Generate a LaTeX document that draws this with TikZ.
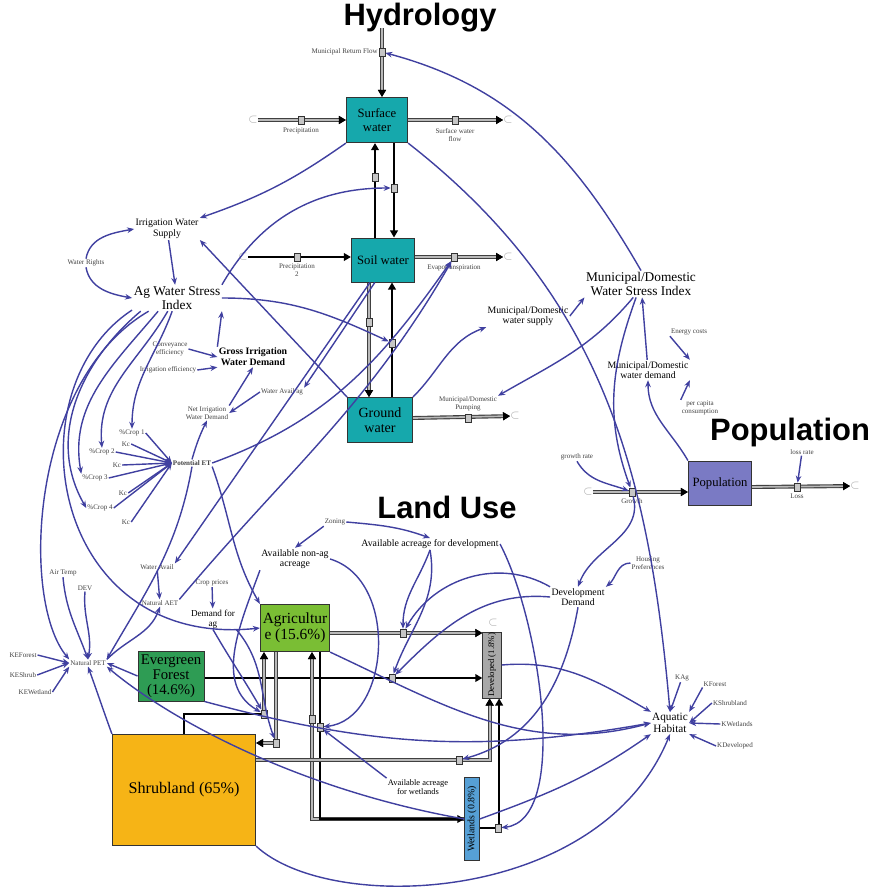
\documentclass[tikz,border=0pt]{standalone}
\usepackage{fontspec}
\setmainfont{Liberation Serif}
\setsansfont{Liberation Sans}
\usetikzlibrary{arrows.meta,positioning,backgrounds}

\definecolor{linkblue}{RGB}{64,64,160}
\definecolor{waterfill}{RGB}{22,168,172}
\definecolor{popfill}{RGB}{122,122,196}
\definecolor{agfill}{RGB}{122,190,52}
\definecolor{forestfill}{RGB}{46,156,84}
\definecolor{shrubfill}{RGB}{246,180,22}
\definecolor{devfill}{RGB}{168,168,168}
\definecolor{wetfill}{RGB}{86,160,214}

\tikzset{
  stock/.style={draw=black!80, line width=0.7pt, align=center, inner sep=1pt,
    font=\fontsize{9}{9.5}\selectfont},
  auxtiny/.style={font=\fontsize{5}{5.6}\selectfont, text=black!75, align=center, inner sep=0.6pt},
  auxsmall/.style={font=\fontsize{7}{7.6}\selectfont, align=center, inner sep=0.8pt},
  auxbold/.style={auxsmall, font=\bfseries\fontsize{7}{7.6}\selectfont},
  auxbig/.style={font=\fontsize{9.5}{10}\selectfont, align=center, inner sep=1pt},
  sectiontitle/.style={font=\sffamily\bfseries\fontsize{22}{22}\selectfont},
  valve/.style={draw=black!80, fill=gray!45, line width=0.4pt, minimum width=1.5mm,
    minimum height=2mm, inner sep=0pt},
  cloud/.style={font=\fontsize{8}{8}\selectfont, text=gray!70, inner sep=0pt},
  pipe/.style={line width=1.2pt, draw=gray!55, preaction={draw=black!75, line width=2.8pt}},
  pipeend/.style={-{Triangle[length=5pt,width=5.5pt,color=black]}},
  bflow/.style={line width=1.1pt, draw=black},
  link/.style={draw=linkblue, line width=1pt, -{Stealth[length=5pt,width=4pt]}}
}

\begin{document}
\begin{tikzpicture}[x=0.25mm,y=-0.25mm]
  \useasboundingbox (0,0) rectangle (880,892);

  % section headings
  \node[sectiontitle] (tHyd) at (420,18) {Hydrology};
  \node[sectiontitle] (tPop) at (790,432) {Population};
  \node[sectiontitle] (tLand) at (447,507) {Land Use};

  % hydrology stocks
  \node[stock, fill=waterfill, minimum width=15.3mm, minimum height=11.3mm] (sw) at (377,120) {Surface\\water};
  \node[stock, fill=waterfill, minimum width=15.8mm, minimum height=11mm] (soil) at (383,260) {Soil water};
  \node[stock, fill=waterfill, minimum width=16.2mm, minimum height=11.2mm, font=\fontsize{10}{10.5}\selectfont] (gw) at (380,420) {Ground\\water};

  % hydrology rates
  \node[cloud] (cPrec) at (253,120) {$\subset$};
  \node[valve] (vPrec) at (301,120) {};
  \node[auxtiny, below=2pt of vPrec] (lPrec) {Precipitation};
  \node[valve] (vSwf) at (455,120) {};
  \node[auxtiny, below=2pt of vSwf] (lSwf) {Surface water\\flow};
  \node[cloud] (cSwf) at (508,120) {$\subset$};
  \coordinate (cMrf) at (382,28);
  \node[valve] (vMrf) at (382,52) {};
  \node[auxtiny, left=0pt of vMrf] (lMrf) {Municipal Return Flow};
  \node[valve] (vUp) at (375,177) {};
  \node[valve] (vDown) at (394,188) {};
  \node[cloud] (cPrec2) at (243,257) {$\subset$};
  \node[valve] (vPrec2) at (297,257) {};
  \node[auxtiny, below=1pt of vPrec2] (lPrec2) {Precipitation\\2};
  \node[valve] (vEt) at (454,257) {};
  \node[auxtiny, below=2pt of vEt] (lEt) {Evapotranspiration};
  \node[cloud] (cEt) at (508,257) {$\subset$};
  \node[valve] (vRech) at (369,322) {};
  \node[valve] (vPump) at (392,343) {};
  \node[valve] (vMdp) at (468,418) {};
  \node[auxtiny, above=1pt of vMdp] (lMdp) {Municipal/Domestic\\Pumping};
  \node[cloud] (cMdp) at (515,416) {$\subset$};

  % hydrology auxiliaries
  \node[auxsmall] (iws) at (167,229) {Irrigation Water\\Supply};
  \node[auxtiny] (wr) at (86,263) {Water Rights};
  \node[auxbig] (awsi) at (177,298) {Ag Water Stress\\Index};
  \node[auxbig] (mdwsi) at (641,284) {Municipal/Domestic\\Water Stress Index};
  \node[auxsmall] (mdws) at (528,316) {Municipal/Domestic\\water supply};
  \node[auxtiny] (ec) at (689,332) {Energy costs};
  \node[auxsmall] (mdwd) at (648,370) {Municipal/Domestic\\water demand};
  \node[auxtiny] (pcc) at (700,408) {per capita\\consumption};
  \node[auxtiny] (ce) at (170,349) {Conveyance\\efficiency};
  \node[auxtiny] (ie) at (168,370) {Irrigation efficiency};
  \node[auxbold] (giwd) at (253,357) {Gross Irrigation\\Water Demand};
  \node[auxtiny] (wag) at (282,392) {Water Avail ag};
  \node[auxtiny] (niwd) at (207,413) {Net Irrigation\\Water Demand};
  \node[auxtiny] (crop1) at (132,433) {\%Crop 1};
  \node[auxtiny] (kc1) at (126,444) {Kc};
  \node[auxtiny] (crop2) at (102,452) {\%Crop 2};
  \node[auxtiny] (kc2) at (117,465) {Kc};
  \node[auxtiny] (crop3) at (95,478) {\%Crop 3};
  \node[auxtiny] (kc3) at (123,493) {Kc};
  \node[auxtiny] (crop4) at (100,508) {\%Crop 4};
  \node[auxtiny] (kc4) at (126,522) {Kc};
  \node[auxtiny, font=\bfseries\fontsize{5}{5.6}\selectfont] (pet) at (192,463) {Potential ET};

  % population sector
  \node[stock, fill=popfill, minimum width=15.8mm, minimum height=11mm] (pop) at (720,483) {Population};
  \node[cloud] (cGrowth) at (588,492) {$\subset$};
  \node[valve] (vGrowth) at (632,492) {};
  \node[auxtiny, below=1pt of vGrowth] (lGrowth) {Growth};
  \node[auxtiny] (gr) at (577,457) {growth rate};
  \node[valve] (vLoss) at (797,487) {};
  \node[auxtiny, below=1pt of vLoss] (lLoss) {Loss};
  \node[cloud] (cLoss) at (855,486) {$\subset$};
  \node[auxtiny] (lr) at (802,452) {loss rate};

  % land use stocks
  \node[stock, fill=agfill, minimum width=17.3mm, minimum height=11.8mm, font=\fontsize{11}{11.5}\selectfont] (ag) at (295,628) {Agricultur\\e (15.6\%)};
  \node[stock, fill=forestfill, minimum width=16.5mm, minimum height=12.5mm, font=\fontsize{10.5}{10.5}\selectfont] (forest) at (171,676) {Evergreen\\Forest\\(14.6\%)};
  \node[stock, fill=shrubfill, minimum width=35.8mm, minimum height=27.8mm, font=\fontsize{11.5}{12}\selectfont] (shrub) at (184,790) {Shrubland (65\%)};
  \node[stock, fill=devfill, minimum width=4.6mm, minimum height=16.5mm, inner sep=0pt] (dev) at (492,665) {};
  \node[rotate=90, inner sep=0pt, font=\fontsize{6.2}{6.2}\selectfont] (devtxt) at (dev.center) {Developed (1.8\%)};
  \node[stock, fill=wetfill, minimum width=3.6mm, minimum height=20.8mm, inner sep=0pt] (wet) at (472,819) {};
  \node[rotate=90, inner sep=0pt, font=\fontsize{7}{7}\selectfont] (wettxt) at (wet.center) {Wetlands (0.8\%)};
  \node[cloud] (cDev) at (493,623) {$\subset$};

  % land use rates
  \node[valve] (vAgDev) at (403,633) {};
  \node[valve] (vForDev) at (392,678) {};
  \node[valve] (vShrAg) at (264,714) {};
  \node[valve] (vAgShr) at (276,743) {};
  \node[valve] (vWetAg) at (312,719) {};
  \node[valve] (vAgWet) at (320,727) {};
  \node[valve] (vShrDev) at (459,760) {};
  \node[valve] (vWetDev) at (498,828) {};

  % land use auxiliaries
  \node[auxtiny] (zoning) at (335,522) {Zoning};
  \node[auxsmall] (anaa) at (295,559) {Available non-ag\\acreage};
  \node[auxsmall] (aad) at (430,544) {Available acreage for development};
  \node[auxsmall] (dd) at (578,597) {Development\\Demand};
  \node[auxtiny] (hp) at (648,563) {Housing\\Preferences};
  \node[auxtiny] (at) at (63,573) {Air Temp};
  \node[auxtiny] (devi) at (85,588) {DEV};
  \node[auxtiny] (wa) at (157,567) {Water Avail};
  \node[auxtiny] (naet) at (160,603) {Natural AET};
  \node[auxtiny] (cp) at (212,583) {Crop prices};
  \node[auxsmall, font=\fontsize{6.5}{7}\selectfont] (dfa) at (213,619) {Demand for\\ag};
  \node[auxtiny] (npet) at (88,663) {Natural PET};
  \node[auxtiny] (kef) at (23,655) {KEForest};
  \node[auxtiny] (kes) at (23,675) {KEShrub};
  \node[auxtiny] (kew) at (35,692) {KEWetland};
  \node[auxsmall, font=\fontsize{8}{8.5}\selectfont] (ah) at (670,723) {Aquatic\\Habitat};
  \node[auxtiny] (kag) at (682,678) {KAg};
  \node[auxtiny] (kfor) at (715,684) {KForest};
  \node[auxtiny] (kshr) at (730,703) {KShrubland};
  \node[auxtiny] (kwet) at (737,724) {KWetlands};
  \node[auxtiny] (kdev) at (735,746) {KDeveloped};
  \node[auxsmall, font=\fontsize{6}{6.5}\selectfont] (aaw) at (418,787) {Available acreage\\for wetlands};

  % material flows sit under the valves
  \begin{scope}[on background layer]
    \draw[pipe,pipeend] (cMrf) -- (sw.north -| cMrf);
    \draw[pipe,pipeend] (cPrec) -- (sw.west |- cPrec);
    \draw[pipe,pipeend] (sw.east |- vSwf) -- (cSwf);
    \draw[bflow,pipeend] (soil.north -| vUp) -- (sw.south -| vUp);
    \draw[bflow,pipeend] (sw.south -| vDown) -- (soil.north -| vDown);
    \draw[bflow,pipeend] (cPrec2) -- (soil.west |- cPrec2);
    \draw[pipe,pipeend] (soil.east |- vEt) -- (cEt);
    \draw[pipe,pipeend] (soil.south -| vRech) -- (gw.north -| vRech);
    \draw[bflow,pipeend] (gw.north -| vPump) -- (soil.south -| vPump);
    \draw[pipe,pipeend] (gw.east |- vMdp) -- (cMdp);
    \draw[pipe,pipeend] (cGrowth) -- (pop.west |- cGrowth);
    \draw[pipe,pipeend] (pop.east |- vLoss) -- (cLoss);
    \draw[pipe,pipeend] (ag.east |- vAgDev) -- (dev.west |- vAgDev);
    \draw[bflow,pipeend] (forest.east |- vForDev) -- (dev.west |- vForDev);
    \draw[bflow] (shrub.north) |- (vShrAg.center);
    \draw[pipe,pipeend] (vShrAg.center) -- (ag.south -| vShrAg);
    \draw[pipe,pipeend] (ag.south -| vAgShr) |- (shrub.east |- vAgShr);
    \draw[pipe,pipeend] (wet.west) -| (ag.south -| vWetAg);
    \draw[bflow,pipeend] (ag.south -| vAgWet) |- (wet.west);
    \draw[pipe,pipeend] (shrub.east |- vShrDev) -| (dev.266);
    \draw[bflow,pipeend] (wet.east |- vWetDev) -| (dev.282);
  \end{scope}

  % hydrology links
  \draw[link] (mdwsi.north) to[out=120,in=-15] (vMrf);
  \draw[link] (sw.south west) to[bend left=8] (iws.north east);
  \draw[link] (awsi.north east) to[out=60,in=180] (vDown);
  \draw[link] (sw.south east) to[out=-38,in=95] (ah.north);
  \draw[link] (iws) -- (awsi);
  \draw[link] (wr.north) to[out=80,in=190] (iws.west);
  \draw[link] (wr.south) to[out=-80,in=170] (awsi.west);
  \draw[link] (gw.north west) -- (iws.south east);
  \draw[link] (awsi.east) to[out=0,in=155] (vPump);
  \draw[link] (giwd.north west) -- (awsi.south east);
  \draw[link] (soil.250) -- (wag.north east);
  \draw[link] (soil.240) -- (wa.north east);
  \draw[link] (pet.east) to[out=20,in=-125] (vEt);
  \draw[link] (naet.north east) to[out=50,in=-120] (vEt);
  \draw[link] (gw.north east) to[out=45,in=-160] (mdws.south west);
  \draw[link] (mdws.east) -- (mdwsi.south west);
  \draw[link] (mdwsi.240) to[out=-130,in=30] (lMdp.north east);
  \draw[link] (mdwd) -- (mdwsi);
  \draw[link] (ec.south west) -- (mdwd.north east);
  \draw[link] (pcc.north west) -- (mdwd.south east);
  % irrigation demand and crop ET
  \draw[link] (pet.north) to[bend left=5] (niwd.south);
  \draw[link] (niwd.north east) -- (giwd.south);
  \draw[link] (ce.east) -- (giwd.west);
  \draw[link] (ie.east) -- (giwd.south west);
  \draw[link] (wag.west) -- (niwd.east);
  \draw[link] (crop1.east) -- (pet.west);
  \draw[link] (kc1.east) -- (pet.west);
  \draw[link] (crop2.east) -- (pet.west);
  \draw[link] (kc2.east) -- (pet.west);
  \draw[link] (crop3.east) -- (pet.west);
  \draw[link] (kc3.east) -- (pet.west);
  \draw[link] (crop4.east) -- (pet.west);
  \draw[link] (kc4.east) -- (pet.west);
  \draw[link] (awsi.250) to[out=-110,in=90] (crop1.north);
  \draw[link] (awsi.235) to[out=-120,in=95] (crop2.north);
  \draw[link] (awsi.215) to[out=-130,in=100] (crop3.north west);
  \draw[link] (awsi.200) to[out=-140,in=120] (crop4.west);
  \draw[link] (awsi.195) .. controls (10,390) and (50,650) .. (ag.west);
  \draw[link] (awsi.205) .. controls (30,380) and (20,600) .. (npet.north west);
  \draw[link] (pet.south) to[out=-100,in=60] (npet.north east);
  \draw[link] (pet.south east) to[out=-70,in=120] (ag.north west);
  % population links
  \draw[link] (pop.north west) to[out=120,in=-90] (mdwd.south);
  \draw[link] (mdwsi.250) to[out=-110,in=110] (vGrowth);
  \draw[link] (gr.south) to[out=-60,in=160] (vGrowth);
  \draw[link] (lr) -- (vLoss);
  \draw[link] (vGrowth) to[out=-75,in=70] (dd.north);
  \draw[link] (hp.west) to[out=180,in=40] (dd.north east);
  % land use links
  \draw[link] (zoning.south west) -- (anaa.north);
  \draw[link] (zoning.east) to[out=-5,in=160] (aad.north);
  \draw[link] (aad.south) to[out=-110,in=90] (vAgDev);
  \draw[link] (aad.south) to[out=-80,in=70] (vForDev);
  \draw[link] (dd.north west) to[out=150,in=60] (vAgDev);
  \draw[link] (dd.west) to[out=175,in=45] (vForDev);
  \draw[link] (aad.east) .. controls (540,620) and (570,820) .. (vWetDev);
  \draw[link] (dd.south) to[out=-100,in=15] (vShrDev);
  \draw[link] (anaa.south west) to[out=-110,in=150] (vShrAg);
  \draw[link] (anaa.east) .. controls (400,580) and (390,720) .. (vAgWet);
  \draw[link] (aaw.north west) -- (vAgWet);
  \draw[link] (cp) -- (dfa);
  \draw[link] (dfa.south) to[out=-60,in=120] (vShrAg);
  \draw[link] (dfa.south east) to[out=-50,in=110] (vAgShr);
  \draw[link] (forest.west) -- (npet.east);
  \draw[link] (kef.east) -- (npet.west);
  \draw[link] (kes.east) -- (npet.west);
  \draw[link] (kew.east) -- (npet.south west);
  \draw[link] (at.south) to[out=-85,in=110] (npet.north);
  \draw[link] (devi.south) to[out=-95,in=80] (npet.north);
  \draw[link] (wa) -- (naet);
  \draw[link] (npet.north east) to[out=45,in=-110] (naet.south);
  \draw[link] (shrub.north west) to[out=110,in=-70] (npet.south);
  \draw[link] (wet.west) .. controls (300,790) and (170,720) .. (npet.south east);
  % aquatic habitat
  \draw[link] (dev.east) to[out=5,in=150] (ah.north west);
  \draw[link] (ag.south east) to[out=-25,in=195] (ah.west);
  \draw[link] (forest.south east) to[out=-15,in=190] (ah.west);
  \draw[link] (wet.east) to[out=20,in=215] (ah.south west);
  \draw[link] (shrub.south east) .. controls (330,915) and (600,905) .. (ah.south);
  \draw[link] (kag) -- (ah.north);
  \draw[link] (kfor.south west) -- (ah.north east);
  \draw[link] (kshr.west) -- (ah.east);
  \draw[link] (kwet.west) -- (ah.east);
  \draw[link] (kdev.west) -- (ah.south east);
\end{tikzpicture}
\end{document}
